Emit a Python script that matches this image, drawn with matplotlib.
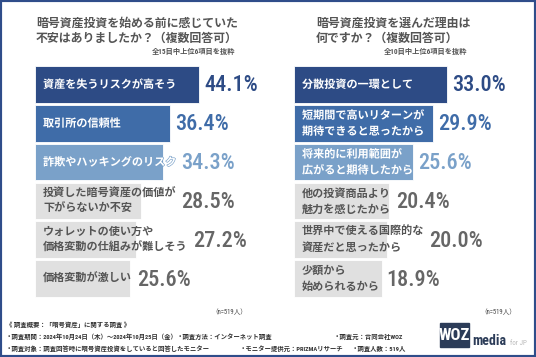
import matplotlib
matplotlib.use("Agg")
import matplotlib.pyplot as plt
from matplotlib import font_manager
from matplotlib.patches import Rectangle
import matplotlib.patheffects as pe

plt.rcParams['font.family'] = ['Noto Sans CJK JP', 'DejaVu Sans']

# data
left_title = "暗号資産投資を始める前に感じていた\n不安はありましたか？（複数回答可）"
left_note = "全15目中上位6項目を抜粋"
left_labels = ["資産を失うリスクが高そう", "取引所の信頼性", "詐欺やハッキングのリスク",
               "投資した暗号資産の価値が\n下がらないか不安",
               "ウォレットの使い方や\n価格変動の仕組みが難しそう", "価格変動が激しい"]
left_values = [44.1, 36.4, 34.3, 28.5, 27.2, 25.6]

right_title = "暗号資産投資を選んだ理由は\n何ですか？（複数回答可）"
right_note = "全10目中上位6項目を抜粋"
right_labels = ["分散投資の一環として", "短期間で高いリターンが\n期待できると思ったから",
                "将来的に利用範囲が\n広がると期待したから", "他の投資商品より\n魅力を感じたから",
                "世界中で使える国際的な\n資産だと思ったから", "少額から\n始められるから"]
right_values = [33.0, 29.9, 25.6, 20.4, 20.0, 18.9]

n_note = "（n=519人）"
footer_head = "《 調査概要：「暗号資産」に関する調査 》"
footer_row1 = ["・調査期間：2024年10月24日（木）～2024年10月25日（金）",
               "・調査方法：インターネット調査", "・調査元：合同会社WOZ"]
footer_row2 = ["・調査対象：調査回答時に暗号資産投資をしていると回答したモニター",
               "・モニター提供元：PRIZMAリサーチ", "・調査人数：519人"]

bar_colors = ["#2d4b85", "#3f6ca8", "#7aa1c9", "#e0e0e0", "#e0e0e0", "#e0e0e0"]
value_colors = ["#2d4b85", "#3f6ca8", "#7aa1c9", "#666666", "#666666", "#666666"]
label_colors = ["white", "white", "white", "#555555", "#555555", "#555555"]

W, H = 536, 357


def fx(x):
    return x / W


def fy(y):
    return 1 - y / H


def pick_narrow():
    for fam in ['Roboto Condensed', 'Liberation Sans Narrow', 'DejaVu Sans Condensed']:
        try:
            font_manager.findfont(font_manager.FontProperties(family=fam),
                                  fallback_to_default=False)
            return fam
        except ValueError:
            pass
    return 'Roboto'


narrow = pick_narrow()
mixed = [narrow, 'Noto Sans CJK JP']

fig = plt.figure(figsize=(W / 100, H / 100), dpi=100)
fig.patch.set_facecolor('white')


def panel(left_px, px_per_pct, labels, values):
    ax = fig.add_axes([fx(left_px), fy(298), 210 / W, 233 / H])
    ax.set_xlim(0, 210 / px_per_pct)
    ax.set_ylim(5.5, -0.5)
    ax.axis('off')
    ax.barh(range(len(values)), values, height=0.94, color=bar_colors,
            edgecolor='white', linewidth=0.6)
    texts = []
    for i, lab in enumerate(labels):
        t = ax.annotate(lab, xy=(0, i), xytext=(8, 0), textcoords='offset pixels',
                        va='center', ha='left', fontsize=8.0, fontweight='bold',
                        color=label_colors[i], linespacing=1.3)
        if label_colors[i] == "white":
            t.set_path_effects([pe.withStroke(linewidth=0.9, foreground=bar_colors[i])])
        texts.append(t)
    return ax, texts


axL, textsL = panel(35, 3.72, left_labels, left_values)
axR, textsR = panel(294, 4.64, right_labels, right_values)

fig.canvas.draw()
renderer = fig.canvas.get_renderer()
for ax, texts, values in [(axL, textsL, left_values), (axR, textsR, right_values)]:
    for i, (t, v) in enumerate(zip(texts, values)):
        bar_end = ax.transData.transform((v, i))[0]
        lab_end = t.get_window_extent(renderer).x1
        off = max(bar_end, lab_end) + 5 - bar_end
        ax.annotate(f"{v:.1f}%", xy=(v, i), xytext=(off, -1), textcoords='offset pixels',
                    va='center', ha='left', fontsize=16, family=narrow,
                    fontweight='medium', color=value_colors[i])

# titles
for x, title in [(36, left_title), (316, right_title)]:
    fig.text(fx(x), fy(31), title, va='center', ha='left', fontsize=8.6,
             fontweight='bold', color='#555555', linespacing=1.25)
for x, note in [(235, left_note), (467, right_note)]:
    fig.text(fx(x), fy(52), note, va='center', ha='right', fontsize=5.2,
             fontweight='bold', color='#555555', family=mixed)
for x in [247, 516]:
    fig.text(fx(x), fy(313), n_note, va='center', ha='right', fontsize=4.8,
             color='#444444', family=mixed)

# footer
fig.text(fx(6), fy(325), footer_head, va='center', ha='left', fontsize=4.6,
         fontweight='bold', color='#333333', family=mixed)
for x, s in zip([6, 177, 334], footer_row1):
    fig.text(fx(x), fy(337), s, va='center', ha='left', fontsize=4.6,
             fontweight='bold', color='#333333', family=mixed)
for x, s in zip([6, 240, 352], footer_row2):
    fig.text(fx(x), fy(349), s, va='center', ha='left', fontsize=4.6,
             fontweight='bold', color='#333333', family=mixed)

# logo
fig.patches.append(Rectangle((fx(440), fy(347)), 29 / W, 24 / H, transform=fig.transFigure,
                             color='#2c3c58'))
fig.text(fx(454.5), fy(335.5), "WOZ", va='center', ha='center', fontsize=12,
         fontweight='bold', family=narrow, color='white')
fig.text(fx(472), fy(345), "media", va='baseline', ha='left', fontsize=10,
         fontweight='bold', family=narrow, color='#2c3c58')
fig.text(fx(510), fy(345), "for JP", va='baseline', ha='left', fontsize=5,
         family=narrow, color='#bbbbbb')

# frame
fig.patches.append(Rectangle((0, 0), 1, 1, transform=fig.transFigure, fill=False,
                             edgecolor='#2f4d8a', linewidth=3))

fig.savefig("out.png", dpi=100)
